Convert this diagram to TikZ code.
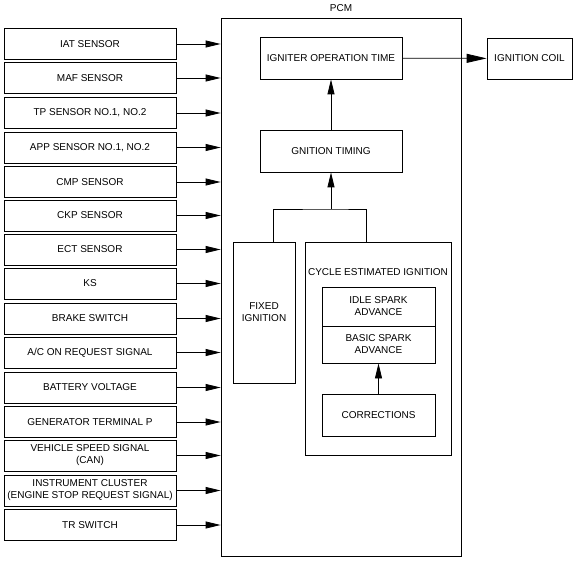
\documentclass[tikz,border=0pt]{standalone}
\usepackage{fontspec}
\setmainfont{Liberation Sans}
\usetikzlibrary{arrows.meta}
\tikzset{every picture/.style={line width=0.8pt}}

\begin{document}
\begin{tikzpicture}
    [
    x=1pt, y=-1pt,
    font=\fontsize{10}{12}\selectfont,
    arrow/.style={
        -{Triangle[length=15pt,width=7pt]}
    },
    box/.style={
        draw,
        rectangle,
        inner sep=0pt,
        align=center % align is required for multi-line text
    },
    sensor/.style={
        box,
        minimum width=172pt,
        minimum height=31pt
    },
    inner/.style={
        box,
        minimum width=142pt,
        minimum height=42pt
    },
    ]

    \useasboundingbox (0,0) rectangle (575,561);

    \draw (341,287) node[box, minimum width=240pt, minimum height=538pt,
        label={[label distance=2pt]above:PCM}] (pcm) {};

    % inputs
    \draw (90,44) node[sensor] (iat) {IAT SENSOR};
    \draw (90,78) node[sensor] (maf) {MAF SENSOR};
    \draw (90,113) node[sensor] (tp) {TP SENSOR NO.1, NO.2};
    \draw (90,147.5) node[sensor] (app) {APP SENSOR NO.1, NO.2};
    \draw (90,182) node[sensor] (cmp) {CMP SENSOR};
    \draw (90,215.5) node[sensor] (ckp) {CKP SENSOR};
    \draw (90,249.5) node[sensor] (ect) {ECT SENSOR};
    \draw (90,283.5) node[sensor] (ks) {KS};
    \draw (90,318.5) node[sensor] (brake) {BRAKE SWITCH};
    \draw (90,352.5) node[sensor] (ac) {A/C ON REQUEST SIGNAL};
    \draw (90,387.5) node[sensor] (batt) {BATTERY VOLTAGE};
    \draw (90,422) node[sensor] (gen) {GENERATOR TERMINAL P};
    \draw (90,455.5) node[sensor] (vss) {VEHICLE SPEED SIGNAL \\ (CAN)};
    \draw (90,490.5) node[sensor] (ic) {INSTRUMENT CLUSTER \\ (ENGINE STOP REQUEST SIGNAL)};
    \draw (90,525) node[sensor] (tr) {TR SWITCH};

    \draw [arrow] (iat) -- (iat -| pcm.west);
    \draw [arrow] (maf) -- (maf -| pcm.west);
    \draw [arrow] (tp) -- (tp -| pcm.west);
    \draw [arrow] (app) -- (app -| pcm.west);
    \draw [arrow] (cmp) -- (cmp -| pcm.west);
    \draw [arrow] (ckp) -- (ckp -| pcm.west);
    \draw [arrow] (ect) -- (ect -| pcm.west);
    \draw [arrow] (ks) -- (ks -| pcm.west);
    \draw [arrow] (brake) -- (brake -| pcm.west);
    \draw [arrow] (ac) -- (ac -| pcm.west);
    \draw [arrow] (batt) -- (batt -| pcm.west);
    \draw [arrow] (gen) -- (gen -| pcm.west);
    \draw [arrow] (vss) -- (vss -| pcm.west);
    \draw [arrow] (ic) -- (ic -| pcm.west);
    \draw [arrow] (tr) -- (tr -| pcm.west);

    % inside the PCM
    \draw (331,58) node[inner] (igniter) {IGNITER OPERATION TIME};
    \draw (529.5,58.5) node[box, minimum width=85pt, minimum height=41pt] (coil) {IGNITION COIL};
    \draw (331,151) node[inner] (timing) {GNITION TIMING};
    \draw (264,312.5) node[box, minimum width=62pt, minimum height=141pt] (fixed) {FIXED \\ IGNITION};
    \draw (378,348.5) node[box, minimum width=146pt, minimum height=213pt] (cycle) {};
    \draw (378,272) node (cyclename) {CYCLE ESTIMATED IGNITION};
    \draw (378.5,306.5) node[box, minimum width=113pt, minimum height=39pt] (idle) {IDLE SPARK \\ ADVANCE};
    \draw (378.5,344.5) node[box, minimum width=113pt, minimum height=37pt] (basic) {BASIC SPARK \\ ADVANCE};
    \draw (378.5,415) node[box, minimum width=113pt, minimum height=42pt] (corr) {CORRECTIONS};
    \coordinate (tee) at (331,209);

    \draw [-{Triangle[length=20pt,width=9pt]}] (igniter) -- (coil);
    \draw [arrow] (timing) -- (igniter);
    \draw ([xshift=9pt]fixed.north) |- (tee) -| ([xshift=-12pt]cycle.north);
    \draw [arrow] (tee) -- (timing);
    \draw [arrow] (corr) -- (basic);


\end{tikzpicture}
\end{document}
